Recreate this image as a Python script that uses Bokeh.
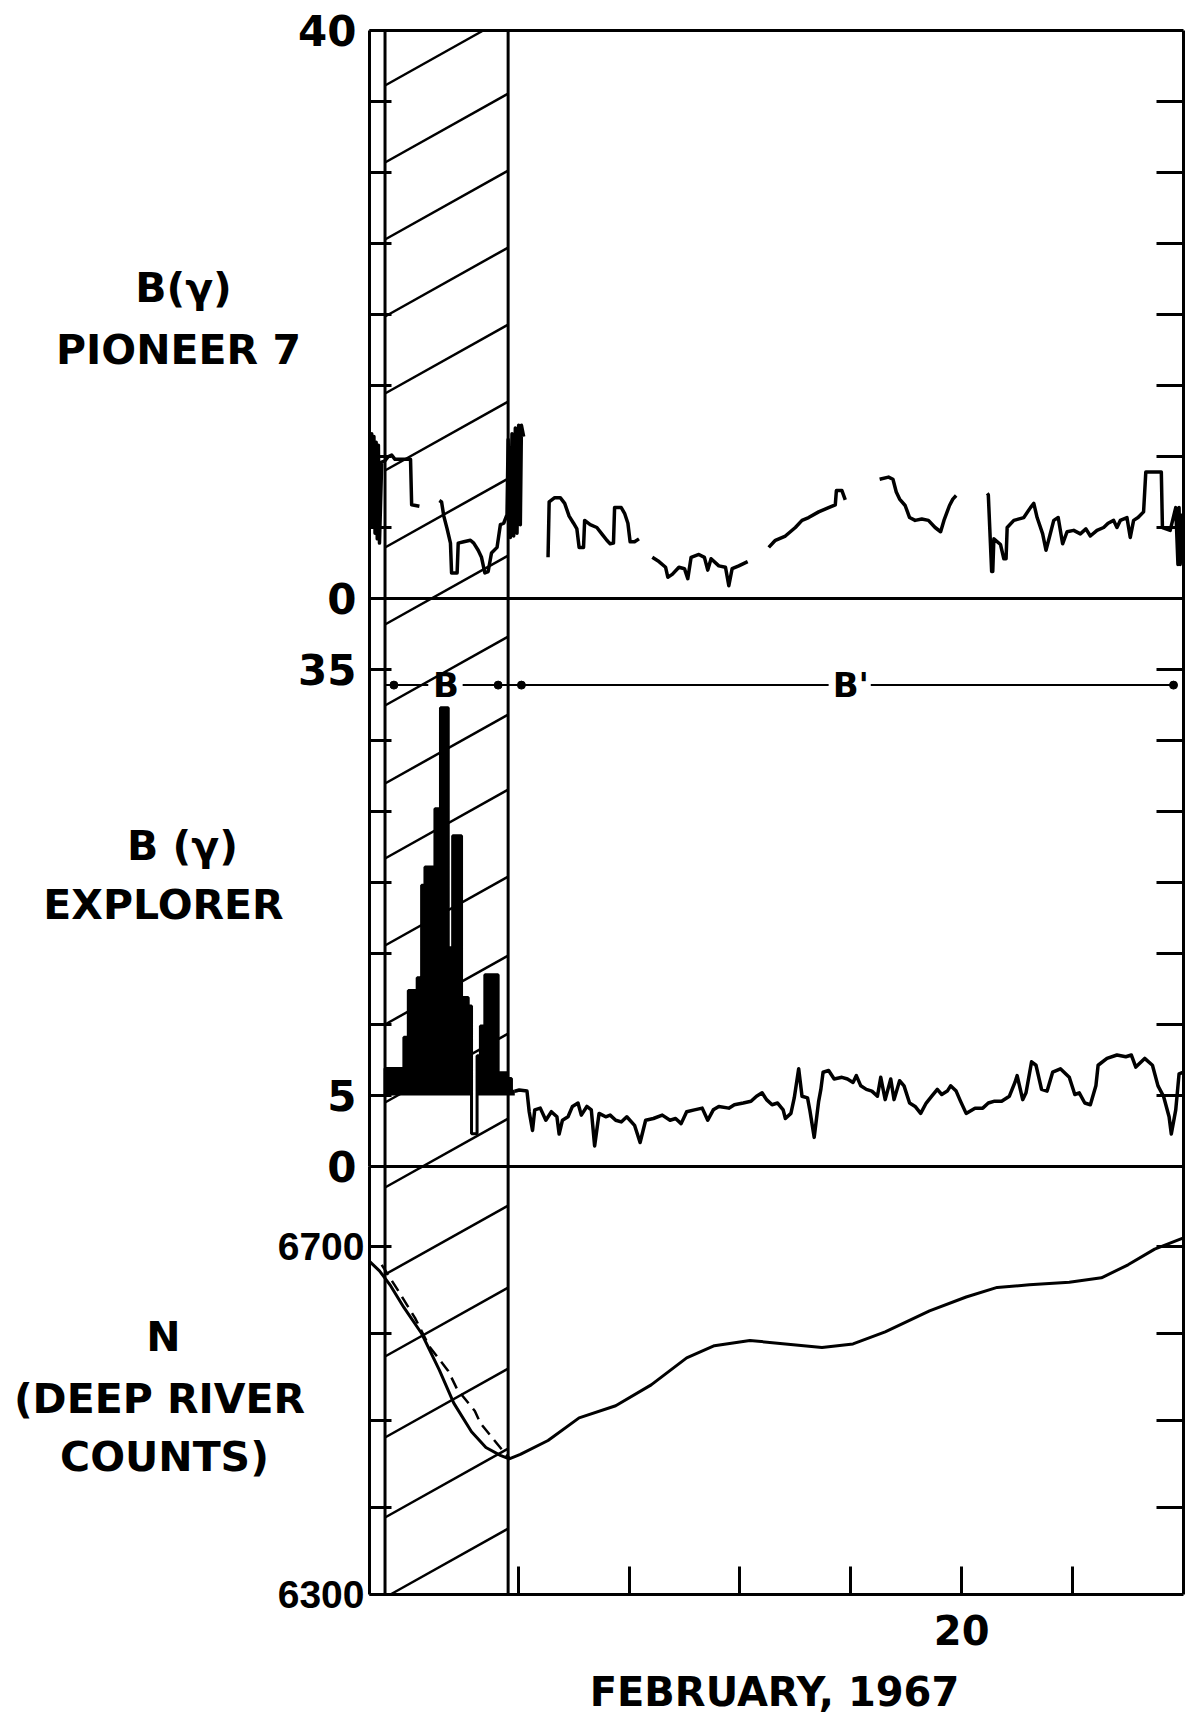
from bokeh.plotting import figure
from bokeh.models import Range1d, LinearAxis, FixedTicker
from bokeh.embed import file_html
from bokeh.resources import INLINE
from bokeh.core.properties import value

FONT = "DejaVu Sans"
NFONT = "Liberation Sans"
NaN = float("nan")

# ---------------- data (x = day of February 1967) ----------------
# Pioneer 7 field magnitude B (gamma); NaN marks data gaps
pio_day = [14.67, 14.68, 14.69, 14.70, 14.71, 14.72, 14.73, 14.74, 14.75, 14.77, 14.80, 14.83, 14.86,
           14.89, 15.03, 15.04, 15.11, NaN,
           15.29, 15.31, 15.33, 15.36, 15.39, 15.40, 15.45, 15.46, 15.51, 15.57, 15.60, 15.64, 15.67,
           15.70, 15.73, 15.76, 15.81, 15.84, 15.87, 15.90, 15.91, 15.93, 15.945, 15.96, 15.975, 15.99,
           16.005, 16.02, 16.03, 16.05, NaN,
           16.27, 16.28, 16.33, 16.38, 16.42, 16.46, 16.50, 16.53, 16.55, 16.59, 16.60, 16.65, 16.71,
           16.76, 16.80, 16.83, 16.86, 16.87, 16.93, 16.96, 16.99, 17.01, 17.05, 17.09, NaN,
           17.21, 17.27, 17.33, 17.35, 17.39, 17.45, 17.50, 17.53, 17.56, 17.63, 17.68, 17.71, 17.74,
           17.81, 17.87, 17.90, 17.93, 17.99, 18.07, NaN,
           18.26, 18.32, 18.41, 18.50, 18.56, 18.62, 18.71, 18.80, 18.86, 18.87, 18.92, 18.95, NaN,
           19.26, 19.34, 19.38, 19.41, 19.44, 19.49, 19.53, 19.58, 19.64, 19.70, 19.76, 19.81, 19.84,
           19.89, 19.92, 19.95, NaN,
           20.23, 20.24, 20.27, 20.28, 20.29, 20.35, 20.38, 20.40, 20.41, 20.47, 20.56, 20.62, 20.65,
           20.68, 20.73, 20.76, 20.79, 20.83, 20.87, 20.91, 20.95, 21.01, 21.07, 21.12, 21.16, 21.22,
           21.28, 21.32, 21.37, 21.40, 21.43, 21.49, 21.52, 21.55, 21.59, 21.64, 21.66, 21.80, 21.81,
           21.88, 21.93, 21.95, 21.96, 21.97, 21.99]
pio_b = [5.0, 11.6, 5.2, 11.4, 4.6, 11.0, 4.2, 10.8, 3.9, 9.6, 9.7, 10.0, 10.1,
         9.8, 9.8, 6.6, 6.5, NaN,
         6.9, 6.8, 5.8, 4.9, 3.9, 1.8, 1.8, 3.9, 4.0, 4.1, 3.9, 3.4, 2.9,
         1.8, 1.9, 3.2, 3.6, 5.2, 5.3, 5.9, 11.2, 4.3, 11.6, 4.4, 12.0, 4.6,
         12.2, 5.2, 12.2, 11.4, NaN,
         2.9, 6.8, 7.1, 7.1, 6.7, 5.8, 5.3, 4.9, 3.6, 3.6, 5.5, 5.2, 5.0,
         4.5, 4.1, 3.85, 3.9, 6.4, 6.4, 6.0, 5.3, 4.0, 4.0, 4.2, NaN,
         2.9, 2.6, 2.2, 1.5, 1.7, 2.2, 2.1, 1.4, 2.9, 3.1, 2.9, 2.0, 2.8,
         2.3, 2.2, 0.9, 2.1, 2.3, 2.6, NaN,
         3.6, 4.1, 4.4, 5.0, 5.5, 5.7, 6.1, 6.4, 6.6, 7.6, 7.6, 6.95, NaN,
         8.4, 8.55, 8.4, 7.5, 7.0, 6.55, 5.7, 5.5, 5.6, 5.5, 5.0, 4.7, 5.5,
         6.55, 7.0, 7.25, NaN,
         7.4, 7.3, 1.9, 1.9, 4.2, 3.8, 2.8, 2.8, 5.0, 5.5, 5.7, 6.4, 6.7,
         5.7, 4.55, 3.4, 4.3, 5.5, 5.7, 3.85, 4.7, 4.8, 4.55, 4.9, 4.4, 4.8,
         5.0, 5.3, 5.5, 5.0, 5.5, 5.7, 4.3, 5.5, 5.7, 6.1, 8.9, 8.9, 5.0,
         4.8, 6.4, 2.4, 6.4, 2.4, 6.0]

# Explorer B (gamma): histogram-like record inside the shaded interval
exp_hist_edges = [14.66, 14.80, 14.97, 15.01, 15.09, 15.13, 15.16, 15.25, 15.30, 15.37, 15.41,
                  15.49, 15.55, 15.58, 15.63, 15.66, 15.70, 15.82, 15.90, 15.94, 15.97]
exp_hist_b = [5.0, 6.9, 9.1, 12.4, 13.3, 19.8, 21.1, 25.2, 32.3, 15.4,
              23.3, 11.9, 11.3, 2.3, 7.8, 9.9, 13.5, 6.6, 6.2, 5.3]
exp_base = 5.0

# Explorer B (gamma) after the shaded interval
exp_day = [15.97, 16.01, 16.08, 16.10, 16.13, 16.15, 16.20, 16.25, 16.30, 16.35,
           16.37, 16.40, 16.45, 16.49, 16.54, 16.57, 16.62, 16.66, 16.69, 16.73,
           16.79, 16.83, 16.88, 16.93, 16.98, 17.05, 17.10, 17.15, 17.22, 17.30,
           17.37, 17.42, 17.47, 17.52, 17.59, 17.66, 17.71, 17.76, 17.81, 17.90,
           17.95, 18.03, 18.10, 18.15, 18.20, 18.24, 18.29, 18.34, 18.39, 18.41,
           18.46, 18.49, 18.53, 18.56, 18.61, 18.63, 18.67, 18.71, 18.73, 18.75,
           18.80, 18.85, 18.92, 18.97, 19.02, 19.05, 19.09, 19.14, 19.19, 19.24,
           19.27, 19.31, 19.36, 19.39, 19.44, 19.48, 19.53, 19.58, 19.63, 19.68,
           19.73, 19.78, 19.82, 19.87, 19.90, 19.95, 19.99, 20.04, 20.12, 20.19,
           20.24, 20.29, 20.36, 20.43, 20.48, 20.50, 20.55, 20.58, 20.63, 20.67,
           20.72, 20.77, 20.82, 20.89, 20.97, 21.02, 21.06, 21.11, 21.16, 21.21,
           21.23, 21.31, 21.40, 21.48, 21.53, 21.57, 21.65, 21.72, 21.77, 21.82,
           21.87, 21.89, 21.93, 21.96, 22.00]
exp_b = [5.30, 5.39, 5.31, 3.86, 2.54, 3.99, 4.11, 3.26, 3.86, 3.50,
         2.29, 3.26, 3.50, 4.23, 4.47, 3.62, 4.23, 3.99, 1.45, 3.74,
         3.50, 3.62, 3.26, 3.14, 3.50, 2.90, 1.69, 3.26, 3.38, 3.62,
         3.26, 3.38, 3.02, 3.86, 3.99, 4.11, 3.26, 3.99, 4.23, 4.11,
         4.35, 4.47, 4.59, 4.95, 5.19, 4.71, 4.35, 4.47, 3.99, 3.38,
         3.74, 4.83, 6.88, 4.95, 4.83, 3.99, 2.05, 4.59, 5.43, 6.64,
         6.76, 6.16, 6.28, 6.16, 5.92, 6.40, 5.68, 5.43, 5.31, 4.95,
         6.28, 4.71, 6.16, 4.71, 6.04, 5.68, 4.47, 4.23, 3.74, 4.47,
         4.95, 5.43, 5.07, 5.31, 5.68, 5.31, 4.59, 3.74, 4.11, 4.11,
         4.47, 4.59, 4.59, 4.95, 5.92, 6.40, 4.71, 5.19, 7.37, 7.13,
         5.43, 5.31, 6.64, 6.88, 6.28, 5.07, 5.19, 4.47, 4.35, 5.68,
         7.13, 7.61, 7.85, 7.73, 7.85, 7.00, 7.61, 7.13, 5.68, 4.95,
         3.50, 2.29, 3.99, 6.52, 6.64]

# Deep River neutron monitor counts
nm_day = [14.66, 14.75, 14.85, 14.97, 15.13, 15.29, 15.42, 15.58, 15.71, 15.84, 15.92, 16.02,
          16.27, 16.55, 16.88, 17.20, 17.52, 17.77, 18.09, 18.41, 18.74, 19.02, 19.31, 19.71,
          20.04, 20.32, 20.61, 20.97, 21.26, 21.50, 21.74, 22.00]
nm_counts = [6683, 6672, 6655, 6630, 6600, 6558, 6520, 6487, 6469, 6460, 6456, 6461,
             6477, 6503, 6517, 6541, 6572, 6586, 6592, 6588, 6584, 6588, 6602, 6626,
             6642, 6653, 6656, 6659, 6664, 6679, 6697, 6710]
nm_dash_day = [14.77, 14.91, 15.07, 15.20, 15.37, 15.45, 15.61, 15.66, 15.87, 15.92]
nm_dash_counts = [6679, 6651, 6618, 6585, 6557, 6536, 6511, 6497, 6464, 6457]

# shaded interval and the interval markers B / B'
shade_start, shade_end = 14.80, 15.91
interval_names = ["B", "B'"]
interval_text_day = [15.35, 19.00]
interval_line_x0 = [14.80, 15.50, 19.18]
interval_line_x1 = [15.19, 18.80, 21.91]
interval_dot_day = [14.88, 15.82, 16.03, 21.91]
interval_level = 33.9

day_ticks = [16, 17, 18, 19, 20, 21]
day_labels = {16: "", 17: "", 18: "", 19: "", 20: "20", 21: ""}
x_title = "FEBRUARY, 1967"

panel_titles = ["B(\u03b3)", "PIONEER 7", "B (\u03b3)", "EXPLORER", "N", "(DEEP RIVER", "COUNTS)"]

# ---------------- layout (pixels) ----------------
W, H = 1186, 1715
FRAME_L, FRAME_R = 369, 1183      # drawn chart box, left / right edge
TOP_PX = 30                       # drawn chart box, top edge
X0, X1 = 14.66, 22.0
PXD = (FRAME_R - FRAME_L) / (X1 - X0)

H_NM, H_EXP, H_PIO = 428, 568, 568
L_TOTAL = H_NM + H_EXP + H_PIO
L_MIN, L_MAX = L_TOTAL - (H - TOP_PX), L_TOTAL + TOP_PX
panels = {
    "pio": dict(base=H_NM + H_EXP, h=H_PIO, lo=0.0, hi=40.0),
    "exp": dict(base=H_NM, h=H_EXP, lo=0.0, hi=40.0),
    "nm": dict(base=0, h=H_NM, lo=6300.0, hi=6792.0),
}


def to_layout(name, v):
    q = panels[name]
    return round(q["base"] + (v - q["lo"]) * q["h"] / (q["hi"] - q["lo"]), 4)


def panel_range(name):
    q = panels[name]
    k = (q["hi"] - q["lo"]) / q["h"]
    return Range1d(q["lo"] + (L_MIN - q["base"]) * k, q["lo"] + (L_MAX - q["base"]) * k)


def px_to_day(xpx):
    return X0 + (xpx - FRAME_L) / PXD


def px_to_layout(ypx):
    return L_TOTAL - (ypx - TOP_PX)


p = figure(width=W, height=H, x_range=Range1d(px_to_day(0), px_to_day(W)),
           y_range=Range1d(L_MIN, L_MAX),
           output_backend="svg", toolbar_location=None, y_axis_location=None,
           min_border_left=0, min_border_right=0, min_border_top=0, min_border_bottom=0)
p.extra_y_ranges = {name: panel_range(name) for name in panels}
p.xgrid.visible = False
p.ygrid.visible = False
p.outline_line_color = None
p.background_fill_color = "white"
p.border_fill_color = "white"

# ---- left axes (drawn at the left edge of the chart box) ----
ticks_a, labels_a = [], {}
for v in range(0, 41, 5):
    t = to_layout("pio", v)
    ticks_a.append(t)
    labels_a[t] = {0: "0", 40: "40"}.get(v, "")
for v in range(5, 36, 5):
    t = to_layout("exp", v)
    ticks_a.append(t)
    labels_a[t] = {5: "5", 35: "35"}.get(v, "")
t = to_layout("exp", 0)
ticks_a.append(t)
labels_a[t] = "0"

ticks_b, labels_b = [], {}
for v in range(6300, 6701, 100):
    t = to_layout("nm", v)
    ticks_b.append(t)
    labels_b[t] = {6300: "6300", 6700: "6700"}.get(v, "")

common = dict(fixed_location=X0, major_tick_in=22, major_tick_out=0, minor_tick_in=0,
              minor_tick_out=0, axis_line_width=3, major_tick_line_width=3,
              major_label_text_font_style="bold", major_label_text_color="black")
ax_a = LinearAxis(ticker=FixedTicker(ticks=ticks_a), major_label_overrides=labels_a,
                  bounds=(to_layout("exp", 0), L_TOTAL), major_label_text_font=FONT,
                  major_label_text_font_size="42px", major_label_standoff=13, **common)
ax_b = LinearAxis(ticker=FixedTicker(ticks=ticks_b), major_label_overrides=labels_b,
                  bounds=(0, to_layout("exp", 0)), major_label_text_font=NFONT,
                  major_label_text_font_size="39px", major_label_standoff=5, **common)
p.add_layout(ax_a, "left")
p.add_layout(ax_b, "left")

# ---- right axis: inward ticks only ----
right_ticks = ([to_layout("pio", v) for v in range(5, 36, 5)] +
               [to_layout("exp", v) for v in range(5, 36, 5)] +
               [to_layout("nm", v) for v in range(6400, 6701, 100)])
rax = LinearAxis(fixed_location=X1, ticker=FixedTicker(ticks=right_ticks), bounds=(0, L_TOTAL),
                 major_label_overrides={t: "" for t in right_ticks},
                 major_tick_in=27, major_tick_out=0, minor_tick_in=0, minor_tick_out=0,
                 major_label_standoff=0, axis_line_width=3, major_tick_line_width=3,
                 major_label_text_font_size="1px")
p.add_layout(rax, "right")

# ---- bottom axis (day ticks) ----
xax = p.xaxis[0]
xax.fixed_location = 0
xax.bounds = (X0, X1)
xax.ticker = FixedTicker(ticks=day_ticks)
xax.major_label_overrides = day_labels
xax.major_tick_in = 28
xax.major_tick_out = 0
xax.minor_tick_in = 0
xax.minor_tick_out = 0
xax.axis_line_width = 3
xax.major_tick_line_width = 3
xax.major_label_standoff = 20
xax.major_label_text_font = FONT
xax.major_label_text_font_style = "bold"
xax.major_label_text_font_size = "40px"
xax.major_label_text_color = "black"

p.text([px_to_day(774)], [px_to_layout(1691)], text=[x_title], text_align="center",
       text_baseline="middle", text_font=value(FONT), text_font_style="bold",
       text_font_size="40px", text_color="black")

# ---- box top, panel dividers, shaded-interval edges ----
hl = [L_TOTAL, to_layout("pio", 0), to_layout("exp", 0)]
p.segment([X0] * 3, hl, [X1] * 3, hl, line_color="black", line_width=3)
p.segment([shade_start, shade_end], [0, 0], [shade_start, shade_end], [L_TOTAL, L_TOTAL],
          line_color="black", line_width=3)

# oblique hatching of the shaded interval (left-end heights in pixels from the page top)
hatch_top = [85, 162, 239, 316, 393, 470, 547, 624, 705, 783, 858, 945, 1024, 1102,
             1187, 1274, 1356, 1437, 1517, 1597]
hatch_rise = 0.56 * (shade_end - shade_start) * PXD
hy0, hy1, hx0, hx1 = [], [], [], []
for h in hatch_top:
    y0 = px_to_layout(h)
    y1 = y0 + hatch_rise
    xa, xb = shade_start, shade_end
    # keep the hatching inside the chart box
    if y1 > L_TOTAL:
        xb = shade_start + (shade_end - shade_start) * (L_TOTAL - y0) / hatch_rise
        y1 = L_TOTAL
    if y0 < 0:
        xa = shade_start + (shade_end - shade_start) * (0 - y0) / hatch_rise
        y0 = 0
    hx0.append(xa); hy0.append(y0); hx1.append(xb); hy1.append(y1)
p.segment(hx0, hy0, hx1, hy1, line_color="black", line_width=2.5)

# ---- panel 1: Pioneer 7 ----
p.line(pio_day, pio_b, y_range_name="pio", line_color="black", line_width=3.5, line_join="round")

# ---- panel 2: Explorer ----
sx, sy = [], []
for i, v in enumerate(exp_hist_b):
    sx += [exp_hist_edges[i], exp_hist_edges[i + 1]]
    sy += [v, v]
p.varea(x=sx, y1=[exp_base] * len(sx), y2=[max(v, exp_base) for v in sy],
        y_range_name="exp", fill_color="black")
p.line(sx, sy, y_range_name="exp", line_color="black", line_width=3)
p.line(exp_day, exp_b, y_range_name="exp", line_color="black", line_width=3.5, line_join="round")

p.segment(interval_line_x0, [interval_level] * 3, interval_line_x1, [interval_level] * 3,
          y_range_name="exp", line_color="black", line_width=2)
p.scatter(interval_dot_day, [interval_level] * len(interval_dot_day), y_range_name="exp",
          size=8, color="black")
p.text(interval_text_day, [interval_level] * 2, text=interval_names, y_range_name="exp",
       text_align="center", text_baseline="middle", text_font=value(FONT),
       text_font_style="bold", text_font_size="34px", text_color="black")

# ---- panel 3: Deep River neutron monitor ----
p.line(nm_day, nm_counts, y_range_name="nm", line_color="black", line_width=3, line_join="round")
p.line(nm_dash_day, nm_dash_counts, y_range_name="nm", line_color="black", line_width=2.5,
       line_dash="12 7")

# ---- panel titles, left of the chart box ----
title_px = [(183, 287), (178, 349), (182, 845), (163, 904), (163, 1336), (159, 1398), (164, 1456)]
p.text([px_to_day(x) for x, _ in title_px], [px_to_layout(y) for _, y in title_px],
       text=panel_titles, text_align="center", text_baseline="middle",
       text_font=value(FONT), text_font_style="bold", text_font_size="41px",
       text_color="black")

open("out.html", "w").write(file_html(p, INLINE))
